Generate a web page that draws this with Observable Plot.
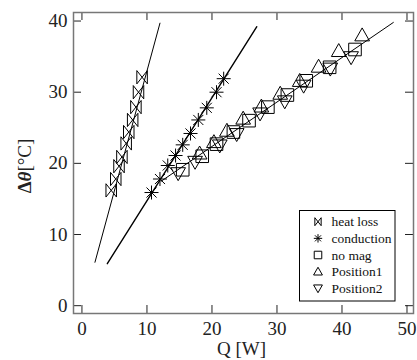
<!DOCTYPE html>
<html><head><meta charset="utf-8">
<script src="https://cdn.jsdelivr.net/npm/d3@7"></script>
<script src="https://cdn.jsdelivr.net/npm/@observablehq/plot@0.6"></script>
<style>body{margin:0;background:#fff;} svg text{font-family:"Liberation Serif","Times New Roman",Times,"DejaVu Serif",serif;}</style>
</head><body><div id="chart"></div>
<script>
// ---- data ----
const xTicks = [0, 10, 20, 30, 40, 50];
const yTicks = [0, 10, 20, 30, 40];

const heatLossQ = [4.5, 5.2, 5.7, 6.15, 6.8, 7.2, 7.8, 8.3, 8.7, 9.25];
const heatLossT = [16.2, 17.8, 19.6, 20.9, 22.8, 24.4, 26.1, 27.9, 30.0, 32.1];

const conductionQ = [10.7, 12.0, 13.2, 14.4, 15.5, 16.7, 17.9, 19.2, 20.7, 21.8];
const conductionT = [15.9, 17.8, 19.7, 21.1, 22.6, 24.2, 26.1, 27.8, 30.0, 31.9];

const noMagQ = [15.5, 18.5, 20.7, 23.3, 25.7, 28.6, 31.6, 34.5, 38.1, 42.0];
const noMagT = [19.1, 21.0, 22.7, 24.4, 26.0, 27.9, 29.6, 31.6, 33.5, 36.0];

const pos1Q = [18.1, 20.3, 22.3, 24.8, 27.6, 30.5, 33.5, 36.4, 39.5, 43.1];
const pos1T = [21.4, 23.0, 24.6, 26.3, 28.0, 29.8, 31.6, 33.6, 35.8, 38.0];

const pos2Q = [14.8, 17.4, 21.2, 23.8, 27.4, 31.2, 34.1, 38.2, 41.4];
const pos2T = [18.6, 20.2, 22.5, 24.1, 27.0, 28.7, 30.9, 33.3, 34.9];

// fitted lines (end points)
const heatLossFitQ = [2.0, 12.0];
const heatLossFitT = [6.1, 39.7];
const conductionFitQ = [3.9, 26.9];
const conductionFitT = [5.9, 39.2];
const noMagFitQ = [12.2, 47.9];
const noMagFitT = [17.5, 39.8];

const seriesNames = ["heat loss", "conduction", "no mag", "Position1", "Position2"];

// ---- custom symbols ----
const rad = s => Math.sqrt(s / Math.PI);
const bowtie = {draw(c, s) { const r = rad(s), w = 0.75 * r, h = 0.95 * r;
  c.moveTo(-w, -h); c.lineTo(w, h); c.lineTo(w, -h); c.lineTo(-w, h); c.closePath(); }};
const star8 = {draw(c, s) { const r = rad(s), d = 0.72 * r;
  c.moveTo(-r, 0); c.lineTo(r, 0); c.moveTo(0, -r); c.lineTo(0, r);
  c.moveTo(-d, -d); c.lineTo(d, d); c.moveTo(-d, d); c.lineTo(d, -d); }};
const sq = {draw(c, s) { const r = rad(s) * 0.9;
  c.moveTo(-r, -r); c.lineTo(r, -r); c.lineTo(r, r); c.lineTo(-r, r); c.closePath(); }};
const triUp = {draw(c, s) { const r = rad(s);
  c.moveTo(0, -1.05 * r); c.lineTo(1.05 * r, 0.8 * r); c.lineTo(-1.05 * r, 0.8 * r); c.closePath(); }};
const triDown = {draw(c, s) { const r = rad(s);
  c.moveTo(0, 1.05 * r); c.lineTo(1.05 * r, -0.8 * r); c.lineTo(-1.05 * r, -0.8 * r); c.closePath(); }};
const symbols = [bowtie, star8, sq, triUp, triDown];

const zip = (qs, ts) => qs.map((q, i) => ({q, t: ts[i]}));

const W = 417, H = 360;
const mL = 73, mR = 4, mT = 12, mB = 47;
const innerW = W - mL - mR, innerH = H - mT - mB;
const tick = 8;
const font = "Liberation Serif, Times New Roman, Times, DejaVu Serif, serif";

const dotOpts = (sym) => ({x: "q", y: "t", symbol: sym, r: 7, stroke: "black", fill: "none", strokeWidth: 1});

const chart = Plot.plot({
  width: W, height: H,
  marginLeft: mL, marginRight: mR, marginTop: mT, marginBottom: mB,
  style: {fontFamily: font, background: "white"},
  x: {domain: [-1.3, 51]},
  y: {domain: [-1.1, 41.2]},
  marks: [
    Plot.line(zip(heatLossFitQ, heatLossFitT), {x: "q", y: "t", stroke: "black", strokeWidth: 1}),
    Plot.line(zip(conductionFitQ, conductionFitT), {x: "q", y: "t", stroke: "black", strokeWidth: 1.4}),
    Plot.line(zip(noMagFitQ, noMagFitT), {x: "q", y: "t", stroke: "black", strokeWidth: 1}),
    Plot.dot(zip(heatLossQ, heatLossT), dotOpts(bowtie)),
    Plot.dot(zip(conductionQ, conductionT), dotOpts(star8)),
    Plot.dot(zip(noMagQ, noMagT), dotOpts(sq)),
    Plot.dot(zip(pos1Q, pos1T), dotOpts(triUp)),
    Plot.dot(zip(pos2Q, pos2T), dotOpts(triDown)),
    // inward ticks on all four sides
    Plot.tickX(xTicks, {x: d => d, insetTop: innerH - tick, stroke: "#222"}),
    Plot.tickX(xTicks, {x: d => d, insetBottom: innerH - tick, stroke: "#222"}),
    Plot.tickY(yTicks, {y: d => d, insetRight: innerW - tick, stroke: "#222"}),
    Plot.tickY(yTicks, {y: d => d, insetLeft: innerW - tick, stroke: "#222"}),
    Plot.axisX({ticks: xTicks, tickSize: 0, tickPadding: 8, fontSize: 19, label: null, fill: "#222"}),
    Plot.axisY({ticks: yTicks, tickSize: 0, tickPadding: 6, fontSize: 19, label: null, fill: "#222"}),
    Plot.frame({stroke: "#777", strokeWidth: 1.5})
  ]
});

const svg = d3.select(chart);
// axis labels
svg.append("text").attr("x", 241.5).attr("y", 355).attr("text-anchor", "middle")
  .attr("font-size", 19).attr("fill", "#222").text("Q [W]");
const yl = svg.append("text").attr("transform", "translate(31,166) rotate(-90)")
  .attr("text-anchor", "middle").attr("font-size", 19).attr("fill", "#222");
yl.append("tspan").attr("font-weight", "bold").text("Δ");
yl.append("tspan").attr("font-weight", "bold").attr("font-style", "italic").text("θ");
yl.append("tspan").text("[°C]");

// legend
const lg = svg.append("g");
lg.append("rect").attr("x", 299.5).attr("y", 210.5).attr("width", 95.5).attr("height", 90.5)
  .attr("fill", "white").attr("stroke", "black").attr("stroke-width", 1);
seriesNames.forEach((name, i) => {
  const cy = 221.7 + i * 16.65;
  lg.append("path").attr("transform", `translate(318,${cy})`)
    .attr("d", d3.symbol(symbols[i], Math.PI * 4.2 * 4.2)())
    .attr("fill", "none").attr("stroke", "black").attr("stroke-width", 1);
  lg.append("text").attr("x", 331.5).attr("y", cy + 4.5).attr("font-size", 13.5)
    .attr("text-anchor", "start").attr("fill", "#111").text(name);
});

document.getElementById("chart").appendChild(chart);
</script>
</body></html>
